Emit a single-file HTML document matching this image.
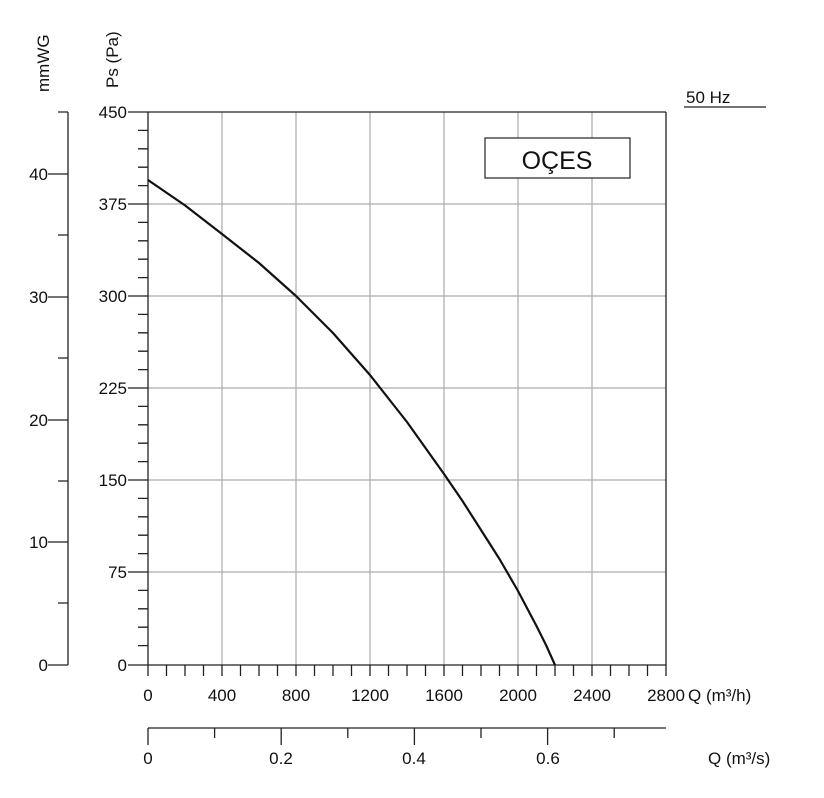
<!DOCTYPE html>
<html><head><meta charset="utf-8"><style>body{margin:0;background:#fff}svg{display:block}text{font-family:"Liberation Sans",sans-serif;fill:#111}</style></head>
<body>
<svg width="824" height="798" xmlns="http://www.w3.org/2000/svg">
<g stroke="#aaa" stroke-width="1.2">
<line x1="222" y1="112" x2="222" y2="665"/><line x1="296" y1="112" x2="296" y2="665"/><line x1="370" y1="112" x2="370" y2="665"/><line x1="444" y1="112" x2="444" y2="665"/><line x1="518" y1="112" x2="518" y2="665"/><line x1="592" y1="112" x2="592" y2="665"/>
<line x1="148" y1="204" x2="666" y2="204"/><line x1="148" y1="296" x2="666" y2="296"/><line x1="148" y1="388" x2="666" y2="388"/><line x1="148" y1="480" x2="666" y2="480"/><line x1="148" y1="572" x2="666" y2="572"/>
</g>
<g stroke="#222" stroke-width="1.3" fill="none">
<line x1="128" y1="112" x2="666" y2="112"/><line x1="666" y1="112" x2="666" y2="676"/><line x1="148" y1="112" x2="148" y2="676"/><line x1="128" y1="665" x2="666" y2="665"/>
<path d="M128 204H148M128 296H148M128 388H148M128 480H148M128 572H148"/>
<path d="M138 130.4H148M138 148.8H148M138 167.2H148M138 185.6H148M138 222.4H148M138 240.8H148M138 259.2H148M138 277.6H148M138 314.4H148M138 332.8H148M138 351.2H148M138 369.6H148M138 406.4H148M138 424.8H148M138 443.2H148M138 461.6H148M138 498.4H148M138 516.8H148M138 535.2H148M138 553.6H148M138 590.4H148M138 608.8H148M138 627.2H148M138 645.6H148"/>
<path d="M166.5 665v11M185 665v11M203.5 665v11M222 665v11M240.5 665v11M259 665v11M277.5 665v11M296 665v11M314.5 665v11M333 665v11M351.5 665v11M370 665v11M388.5 665v11M407 665v11M425.5 665v11M444 665v11M462.5 665v11M481 665v11M499.5 665v11M518 665v11M536.5 665v11M555 665v11M573.5 665v11M592 665v11M610.5 665v11M629 665v11M647.5 665v11"/>
<line x1="68" y1="112" x2="68" y2="665"/>
<path d="M58 112H68M48 174H68M58 235H68M48 297H68M58 358H68M48 420H68M58 481H68M48 542H68M58 603H68M48 665H68"/>
<line x1="148" y1="728" x2="666" y2="728"/>
<path d="M148 728v17M214.6 728v10M281.2 728v17M347.8 728v10M414.4 728v17M481 728v10M547.6 728v17M614.2 728v10"/>
<line x1="684" y1="107" x2="766" y2="107"/>
</g>
<polyline fill="none" stroke="#111" stroke-width="2.2" stroke-linejoin="round" points="148,180 185,205.4 222,234 259,263 296,296 333,333 370,375 407,422 444,474 462.5,501 481,530 499.5,559 518,591 527,608 536.5,626 546,645 555,665"/>
<rect x="485" y="138" width="145" height="40" fill="#fff" stroke="#222" stroke-width="1.2"/>
<text x="557" y="169" font-size="25" text-anchor="middle">OÇES</text>
<text x="686" y="103" font-size="17">50 Hz</text>
<g font-size="17" text-anchor="end">
<text x="127" y="118">450</text><text x="127" y="210">375</text><text x="127" y="302">300</text><text x="127" y="394">225</text><text x="127" y="486">150</text><text x="127" y="578">75</text><text x="127" y="671">0</text>
<text x="48" y="180">40</text><text x="48" y="303">30</text><text x="48" y="426">20</text><text x="48" y="548">10</text><text x="48" y="671">0</text>
</g>
<g font-size="17" text-anchor="middle">
<text x="148" y="701">0</text><text x="222" y="701">400</text><text x="296" y="701">800</text><text x="370" y="701">1200</text><text x="444" y="701">1600</text><text x="518" y="701">2000</text><text x="592" y="701">2400</text><text x="666" y="701">2800</text>
<text x="148" y="764">0</text><text x="281" y="764">0.2</text><text x="414" y="764">0.4</text><text x="548" y="764">0.6</text>
</g>
<text x="688" y="701" font-size="17">Q (m³/h)</text>
<text x="708" y="764" font-size="17">Q (m³/s)</text>
<text transform="translate(49,92) rotate(-90)" font-size="17">mmWG</text>
<text transform="translate(118,88) rotate(-90)" font-size="17">Ps (Pa)</text>
</svg>
</body></html>
